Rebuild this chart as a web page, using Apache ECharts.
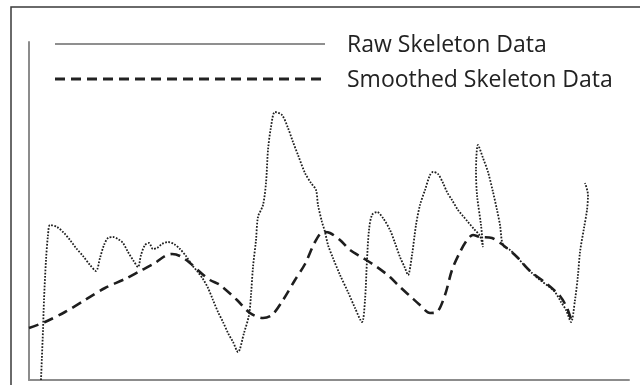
<!DOCTYPE html>
<html>
<head>
<meta charset="utf-8">
<script src="https://cdn.jsdelivr.net/npm/echarts@6/dist/echarts.min.js"></script>
<style>
  html, body { margin: 0; padding: 0; background: #fff; }
  #chart { width: 640px; height: 385px; }
</style>
</head>
<body>
<div id="chart"></div>
<script>
// Series names shown in the key
const seriesNames = ['Raw Skeleton Data', 'Smoothed Skeleton Data'];

// Raw skeleton trace: [frame position, value]
const rawData = [
  [12, 0], [14, 50], [15, 80], [17, 120], [19, 145], [21, 155], [28, 153],
  [35, 147], [41, 140], [47, 132], [54, 124], [61, 115], [67, 109], [71, 122],
  [75, 135], [79, 142], [84, 143], [89, 141], [94, 137], [99, 128], [104, 120],
  [109, 113], [112, 125], [116, 135], [120, 137], [124, 131], [128, 132],
  [133, 136], [139, 138], [145, 136], [151, 131], [157, 124], [163, 115],
  [168, 109], [174, 101], [179, 92], [184, 80], [189, 68], [194, 58], [199, 47],
  [204, 38], [209, 28], [215, 47], [220, 65], [222, 85], [224, 113], [227, 140],
  [229, 163], [234, 175], [237, 197], [239, 230], [242, 253], [246, 268],
  [253, 265], [259, 252], [264, 238], [269, 225], [276, 207], [282, 197],
  [287, 190], [289, 175], [293, 158], [296, 148], [299, 135], [304, 122],
  [311, 105], [319, 88], [326, 72], [333, 58], [336, 80], [338, 120],
  [340, 150], [343, 165], [348, 168], [354, 162], [361, 150], [366, 137],
  [371, 123], [376, 112], [379, 105], [383, 125], [387, 155], [391, 175],
  [396, 190], [401, 205], [404, 208], [409, 206], [414, 197], [418, 188],
  [423, 180], [429, 170], [434, 164], [439, 158], [445, 151], [451, 144],
  [454, 133], [452, 155], [448, 185], [447, 210], [449, 235], [454, 222],
  [459, 208], [464, 188], [468, 170], [471, 155], [474, 135], [481, 130],
  [488, 123], [495, 115], [503, 107], [511, 100], [519, 94], [526, 88],
  [532, 78], [537, 70], [542, 58], [546, 80], [549, 105], [551, 128],
  [555, 152], [558, 170], [559, 185], [556, 197]
];

// Smoothed skeleton trace: [frame position, value]
const smoothData = [
  [0, 52], [16, 58], [36, 68], [56, 80], [76, 92], [96, 101], [111, 109],
  [126, 117], [136, 124], [143, 126], [151, 124], [161, 117], [171, 108],
  [181, 100], [191, 95], [208, 80], [221, 67], [234, 62], [243, 65], [254, 80],
  [266, 100], [276, 116], [286, 138], [294, 148], [301, 147], [311, 140],
  [321, 130], [334, 122], [348, 113], [361, 103], [371, 93], [381, 84],
  [391, 75], [401, 67], [408, 68], [416, 85], [423, 110], [431, 128],
  [438, 140], [444, 145], [451, 143], [463, 142], [474, 135], [488, 123],
  [501, 109], [518, 96], [531, 84], [538, 72], [543, 58]
];

const rawStyle = { color: '#1e1e1e', width: 1.8, type: [1.7, 1.5] };
const smoothStyle = { color: '#1e1e1e', width: 2.6, type: [10, 6] };
const keyFont = { fontFamily: 'Open Sans', fontSize: 23, fill: '#222', textVerticalAlign: 'middle' };

const chart = echarts.init(document.getElementById('chart'), null, { renderer: 'canvas' });

const axisLine = { show: true, lineStyle: { color: '#8c8c8c', width: 2 } };

chart.setOption({
  animation: false,
  backgroundColor: '#ffffff',
  graphic: [
    // outer frame
    {
      type: 'rect',
      shape: { x: 11, y: 7, width: 660, height: 420 },
      style: { fill: 'none', stroke: '#3a3a3a', lineWidth: 1.5 },
      z: 0
    },
    // key: raw series sample line and label
    {
      type: 'line',
      shape: { x1: 55, y1: 44, x2: 325, y2: 44 },
      style: { stroke: '#8f8f8f', lineWidth: 2 }
    },
    {
      type: 'text',
      x: 347, y: 45,
      style: Object.assign({ text: seriesNames[0] }, keyFont)
    },
    // key: smoothed series sample line and label
    {
      type: 'line',
      shape: { x1: 55, y1: 79, x2: 325, y2: 79 },
      style: { stroke: '#222', lineWidth: 2.8, lineDash: [10, 6] }
    },
    {
      type: 'text',
      x: 347, y: 80,
      style: Object.assign({ text: seriesNames[1] }, keyFont)
    }
  ],
  grid: { left: 29, top: 42, width: 600, height: 338 },
  xAxis: {
    type: 'value', min: 0, max: 600,
    axisLine: axisLine, axisTick: { show: false },
    axisLabel: { show: false }, splitLine: { show: false }
  },
  yAxis: {
    type: 'value', min: 0, max: 338,
    axisLine: axisLine, axisTick: { show: false },
    axisLabel: { show: false }, splitLine: { show: false }
  },
  series: [
    {
      name: seriesNames[0],
      type: 'line',
      data: rawData,
      showSymbol: false,
      smooth: 0.3,
      lineStyle: rawStyle,
      z: 3
    },
    {
      name: seriesNames[1],
      type: 'line',
      data: smoothData,
      showSymbol: false,
      smooth: 0.3,
      lineStyle: smoothStyle,
      z: 2
    }
  ]
});
</script>
</body>
</html>
